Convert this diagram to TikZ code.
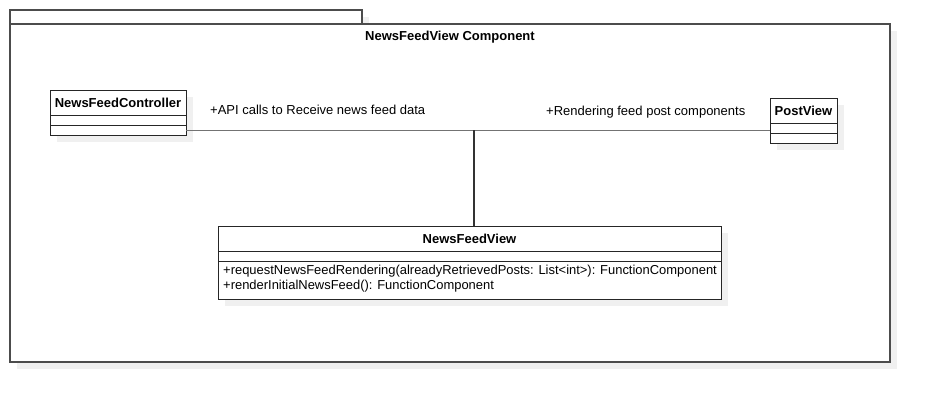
\documentclass[tikz,border=0pt]{standalone}
\usepackage{fontspec}
\setmainfont{Liberation Sans}
\usetikzlibrary{shadows}
\begin{document}
\begin{tikzpicture}[x=1pt,y=-1pt,
  shd/.style={general shadow={fill=black!6,draw=none,shadow xshift=7pt,shadow yshift=-7pt}},
  pkg/.style={draw=black!70,line width=1.2pt,fill=white,shd,inner sep=0pt,outer sep=0pt},
  cls/.style={draw=black!85,line width=1pt,fill=white,shd,inner sep=0pt,outer sep=0pt},
  div/.style={draw=black!85,line width=1pt},
  conn/.style={draw=black!55,line width=1pt},
  vconn/.style={draw=black!80,line width=1.6pt},
  title/.style={font=\fontsize{13}{15}\selectfont\bfseries,inner sep=0pt},
  lbl/.style={font=\fontsize{13}{15}\selectfont,inner sep=0pt,anchor=west},
  meth/.style={font=\fontsize{12.95}{15}\selectfont,inner sep=0pt,anchor=west,align=left}]
\useasboundingbox (0,0) rectangle (931,402);
% package
\node[pkg,minimum width=352,minimum height=14] (tab) at (186,17) {};
\node[pkg,minimum width=880,minimum height=338] (frame) at (450,193) {};
\node[title] (ftitle) at (450,37.5) {NewsFeedView Component};
% NewsFeedController
\node[cls,minimum width=136,minimum height=45] (ctrl) at (118,112.5) {};
\node[title] (ctrlt) at (118,102.5) {NewsFeedController};
\draw[div] (50,115) -- (186,115);
\draw[div] (50,125) -- (186,125);
% PostView
\node[cls,minimum width=67,minimum height=45] (pv) at (803.5,120.5) {};
\node[title] (pvt) at (803.5,110.5) {PostView};
\draw[div] (770,123) -- (837,123);
\draw[div] (770,133) -- (837,133);
% NewsFeedView
\node[cls,minimum width=503,minimum height=73] (nfv) at (469.5,262.5) {};
\node[title] (nfvt) at (469.5,238.5) {NewsFeedView};
\draw[div] (218,251) -- (721,251);
\draw[div] (218,261) -- (721,261);
\node[meth] (m1) at (223,271.5) {+requestNewsFeedRendering(alreadyRetrievedPosts: List<int>): FunctionComponent};
\node[meth] (m2) at (223,286.5) {+renderInitialNewsFeed(): FunctionComponent};
% connectors
\coordinate (j) at (474,130);
\draw[conn] (ctrl.east |- j) -- (pv.west |- j);
\draw[vconn] (j) -- (nfv.north -| j);
\node[lbl] (l1) at (210,110) {+API calls to Receive news feed data};
\node[lbl] (l2) at (546,112) {+Rendering feed post components};
\end{tikzpicture}
\end{document}
